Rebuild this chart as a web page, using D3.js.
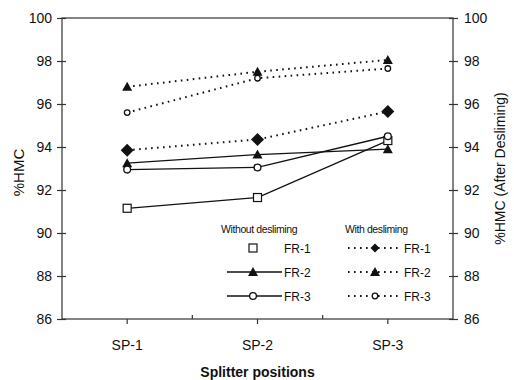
<!DOCTYPE html>
<html>
<head>
<meta charset="utf-8">
<script src="https://cdn.jsdelivr.net/npm/d3@7"></script>
<style>
  body { margin: 0; background: #fff; }
  svg { font-family: "Liberation Sans", Arial, sans-serif; }
</style>
</head>
<body>
<svg width="514" height="380"></svg>
<script>
// позиции сплиттера
const positions = ["SP-1", "SP-2", "SP-3"];
const yTicks = [86, 88, 90, 92, 94, 96, 98, 100];

// без обесшламливания (сплошные линии)
const noDeslFR1 = [91.15, 91.65, 94.3];
const noDeslFR2 = [93.25, 93.65, 93.9];
const noDeslFR3 = [92.95, 93.05, 94.5];

// с обесшламливанием (пунктир)
const deslFR1 = [93.85, 94.35, 95.65];
const deslFR2 = [96.8, 97.5, 98.05];
const deslFR3 = [95.6, 97.2, 97.65];

const series = [
  { name: "FR-1", values: noDeslFR1, marker: "square", dotted: false },
  { name: "FR-2", values: noDeslFR2, marker: "triangle", dotted: false },
  { name: "FR-3", values: noDeslFR3, marker: "circle", dotted: false },
  { name: "FR-1", values: deslFR1, marker: "diamond", dotted: true },
  { name: "FR-2", values: deslFR2, marker: "triangle", dotted: true },
  { name: "FR-3", values: deslFR3, marker: "circle", dotted: true }
];

const svg = d3.select("svg");
svg.append("rect").attr("width", 514).attr("height", 380).attr("fill", "#fff");

const area = { left: 62, right: 453, top: 18, bottom: 319 };

const scX = d3.scaleBand().domain(positions).range([area.left, area.right]);
const scY = d3.scaleLinear().domain([86, 100]).range([area.bottom, area.top]);
const cx = d => scX(d) + scX.bandwidth() / 2;

// рамка
svg.append("rect")
  .attr("x", area.left).attr("y", area.top)
  .attr("width", area.right - area.left).attr("height", area.bottom - area.top)
  .attr("fill", "none").attr("stroke", "#333").attr("stroke-width", 1.2);

// левая ось
const gL = svg.append("g")
  .attr("transform", `translate(${area.left},0)`)
  .call(d3.axisLeft(scY).tickValues(yTicks).tickSize(5).tickPadding(5));
gL.selectAll(".tick line").attr("x1", 4);
// правая ось
const gR = svg.append("g")
  .attr("transform", `translate(${area.right},0)`)
  .call(d3.axisRight(scY).tickValues(yTicks).tickSize(5).tickPadding(6));
gR.selectAll(".tick line").attr("x1", -4);

// нижняя ось
const gB = svg.append("g")
  .attr("transform", `translate(0,${area.bottom})`)
  .call(d3.axisBottom(scX).tickSize(5).tickPadding(16));
// промежуточные засечки внутрь
svg.selectAll(".mid-tick")
  .data(positions.slice(1))
  .enter().append("line")
  .attr("x1", d => scX(d)).attr("x2", d => scX(d))
  .attr("y1", area.bottom).attr("y2", area.bottom - 4)
  .attr("stroke", "#333").attr("stroke-width", 1.2);

svg.selectAll(".domain").remove();
svg.selectAll(".tick line").attr("stroke", "#333").attr("stroke-width", 1.2);
svg.selectAll(".tick text").attr("font-size", 14).attr("fill", "#111");

// подписи осей
svg.append("text")
  .attr("transform", `translate(24,${(area.top + area.bottom) / 2 + 4}) rotate(-90)`)
  .attr("text-anchor", "middle").attr("font-size", 15).attr("fill", "#111")
  .text("%HMC");
svg.append("text")
  .attr("transform", `translate(505,${(area.top + area.bottom) / 2}) rotate(-90)`)
  .attr("text-anchor", "middle").attr("font-size", 14).attr("fill", "#111")
  .text("%HMC (After Desliming)");
svg.append("text")
  .attr("x", (area.left + area.right) / 2).attr("y", 377)
  .attr("text-anchor", "middle").attr("font-size", 14).attr("font-weight", "bold").attr("fill", "#111")
  .text("Splitter positions");

function drawMarker(g, type, x, y, small) {
  if (type == "square") {
    g.append("rect").attr("x", x - 4).attr("y", y - 4).attr("width", 8).attr("height", 8)
      .attr("fill", "#fff").attr("stroke", "#111").attr("stroke-width", 1.2);
  } else if (type == "triangle") {
    g.append("path").attr("d", `M${x},${y - 5}L${x + 5},${y + 4}L${x - 5},${y + 4}Z`)
      .attr("fill", "#111");
  } else if (type == "circle") {
    g.append("circle").attr("cx", x).attr("cy", y).attr("r", small ? 2.8 : 3.4)
      .attr("fill", "#fff").attr("stroke", "#111").attr("stroke-width", 1.3);
  } else if (type == "diamond") {
    const r = small ? 4.5 : 6.5;
    g.append("path").attr("d", `M${x},${y - r}L${x + r},${y}L${x},${y + r}L${x - r},${y}Z`)
      .attr("fill", "#111");
  }
}

const line = d3.line().x((d, i) => cx(positions[i])).y(d => scY(d));

// линии и маркеры
for (let s of series) {
  svg.append("path")
    .attr("d", line(s.values))
    .attr("fill", "none").attr("stroke", "#111")
    .attr("stroke-width", s.dotted ? 2 : 1.3)
    .attr("stroke-dasharray", s.dotted ? "1.6,4.4" : null);
}
for (let s of series) {
  const g = svg.append("g");
  s.values.forEach((v, i) => drawMarker(g, s.marker, cx(positions[i]), scY(v), s.dotted && s.marker == "circle"));
}

// легенда
const leg = svg.append("g");
leg.append("text").attr("x", 221).attr("y", 233).attr("font-size", 10.5)
  .attr("letter-spacing", -0.4).attr("fill", "#111").text("Without desliming");
leg.append("text").attr("x", 345).attr("y", 233).attr("font-size", 10.5)
  .attr("letter-spacing", -0.4).attr("fill", "#111").text("With desliming");
const rowY = [248, 272, 296];
series.forEach((s, i) => {
  const y = rowY[i % 3];
  const g = leg.append("g");
  if (!s.dotted) {
    if (s.marker != "square") {
      g.append("line").attr("x1", 227).attr("x2", 282).attr("y1", y).attr("y2", y)
        .attr("stroke", "#111").attr("stroke-width", 1.3);
    }
    drawMarker(g, s.marker, 253, y, false);
    g.append("text").attr("x", 284).attr("y", y + 4.5).attr("font-size", 12).attr("fill", "#111").text(s.name);
  } else {
    g.append("line").attr("x1", 348).attr("x2", 402).attr("y1", y).attr("y2", y)
      .attr("stroke", "#111").attr("stroke-width", 2).attr("stroke-dasharray", "1.6,4.4");
    drawMarker(g, s.marker, 375, y, true);
    g.append("text").attr("x", 404).attr("y", y + 4.5).attr("font-size", 12).attr("fill", "#111").text(s.name);
  }
});
</script>
</body>
</html>
